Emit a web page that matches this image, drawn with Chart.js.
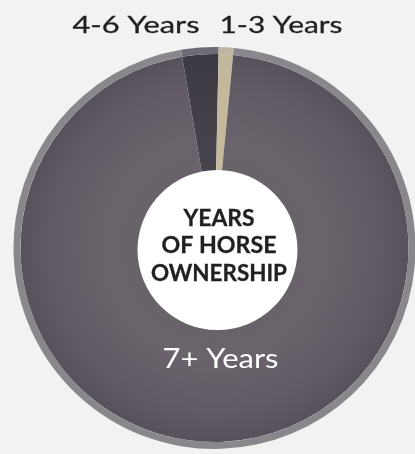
<!DOCTYPE html>
<html>
<head>
<meta charset="utf-8">
<script src="https://cdn.jsdelivr.net/npm/chart.js@4.4.1/dist/chart.umd.min.js"></script>
<style>
  html, body { margin: 0; padding: 0; background: #f2f2f2; overflow: hidden; }
  #wrap { position: absolute; left: 0; top: 0; width: 432px; height: 454px; }
</style>
</head>
<body>
<div id="wrap"><canvas id="c"></canvas></div>
<script>
// ---- data (clockwise from the start angle) ----
const categories = ['4-6 Years', '1-3 Years', '7+ Years'];
const shares = [3.0, 1.2, 95.8];
const centerTitle = ['YEARS', 'OF HORSE', 'OWNERSHIP'];

const rimColors = ['#6f6b74', '#bdb5a3', '#8a878c'];
const flatFill = ['#464049', '#c8bba0', '#675f69'];

function sliceFill(ctx) {
  const chart = ctx.chart;
  const i = ctx.dataIndex;
  const ca = chart.chartArea;
  if (!ca || !isFinite(ca.left) || ca.right - ca.left <= 0) return flatFill[i];
  const x = (ca.left + ca.right) / 2, y = (ca.top + ca.bottom) / 2;
  const r = Math.min(ca.right - ca.left, ca.bottom - ca.top) / 2;
  const g = chart.ctx.createRadialGradient(x, y, 0, x, y, r);
  if (i === 0) {
    g.addColorStop(0, '#4d4852'); g.addColorStop(0.6, '#45414b'); g.addColorStop(1, '#3d3943');
  } else if (i === 1) {
    g.addColorStop(0, '#c9bca1'); g.addColorStop(1, '#c3b79b');
  } else {
    g.addColorStop(0, '#676069'); g.addColorStop(0.55, '#6a636c'); g.addColorStop(0.8, '#625b65'); g.addColorStop(1, '#554f59');
  }
  return g;
}

function fitText(ctx, t, x, y, w, strokeW) {
  const m = ctx.measureText(t).width;
  ctx.save();
  ctx.translate(x, y);
  ctx.scale(w / m, 1);
  ctx.fillText(t, 0, 0);
  if (strokeW) { ctx.lineWidth = strokeW; ctx.strokeText(t, 0, 0); }
  ctx.restore();
}

const overlay = {
  id: 'overlay',
  afterDatasetsDraw(chart) {
    const ctx = chart.ctx;
    const ca = chart.chartArea;
    const cx = (ca.left + ca.right) / 2, cy = (ca.top + ca.bottom) / 2;
    ctx.save();
    ctx.beginPath();
    ctx.arc(cx + 3, cy + 2, 80, 0, Math.PI * 2);
    ctx.fillStyle = '#ffffff';
    ctx.fill();
    ctx.fillStyle = '#231f20';
    ctx.strokeStyle = '#231f20';
    ctx.textAlign = 'center';
    ctx.textBaseline = 'alphabetic';
    ctx.font = 'bold 22px Lato';
    const widths = [71, 115, 136];
    const base = [-22, 5, 32.5];
    centerTitle.forEach((t, k) => fitText(ctx, t, cx + 4.5, cy + base[k], widths[k], 0.3));
    ctx.font = '23px Lato';
    fitText(ctx, categories[0], cx - 78.5, cy - 215, 127, 0.3);
    fitText(ctx, categories[1], cx + 66.5, cy - 215, 123, 0.3);
    ctx.fillStyle = '#ffffff';
    ctx.font = '27px Lato';
    fitText(ctx, categories[2], cx + 6, cy + 120, 116, 0);
    ctx.restore();
  }
};

new Chart(document.getElementById('c'), {
  type: 'doughnut',
  data: {
    labels: categories,
    datasets: [
      { data: shares, backgroundColor: rimColors, borderWidth: 0, hoverOffset: 0, weight: 7 },
      { data: shares, backgroundColor: sliceFill, borderWidth: 0, hoverOffset: 0, weight: 194 }
    ]
  },
  options: {
    responsive: true,
    maintainAspectRatio: false,
    animation: false,
    rotation: -9.6,
    cutout: 0,
    layout: { padding: { left: 13.5, right: 16.5, top: 47, bottom: 5 } },
    plugins: { legend: { display: false }, tooltip: { enabled: false } }
  },
  plugins: [overlay]
});
</script>
</body>
</html>
